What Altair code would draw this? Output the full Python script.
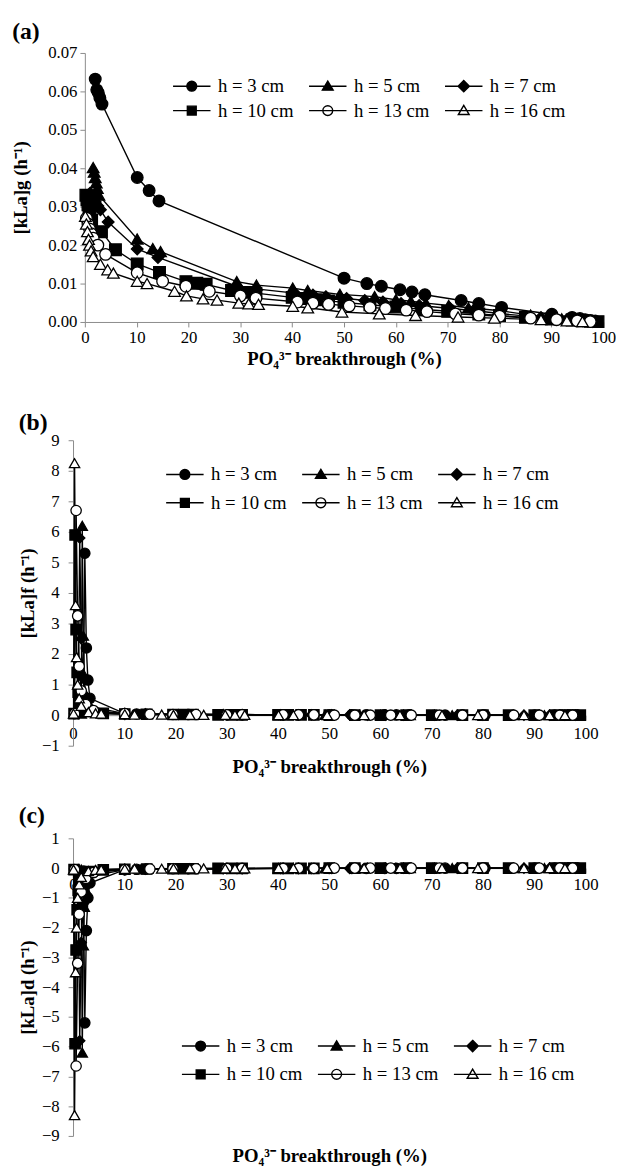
import altair as alt
import pandas as pd

FONT = "Liberation Serif"
SERIES = ["h = 3 cm", "h = 5 cm", "h = 7 cm", "h = 10 cm", "h = 13 cm", "h = 16 cm"]
MARKERS = ["circle", "triangle-up", "diamond", "square", "circle", "triangle-up"]
FILLS = ["black", "black", "black", "black", "white", "white"]
STROKES = ["black", "black", "black", "black", "black", "black"]

X_TICKS = [0, 10, 20, 30, 40, 50, 60, 70, 80, 90, 100]
YA_TICKS = [0.0, 0.01, 0.02, 0.03, 0.04, 0.05, 0.06, 0.07]
YB_TICKS = [-1, 0, 1, 2, 3, 4, 5, 6, 7, 8, 9]
YC_TICKS = [-9, -8, -7, -6, -5, -4, -3, -2, -1, 0, 1]

# ---- h = 3 cm ----
x3 = [2.0, 2.3, 2.6, 2.9, 3.3, 10.1, 12.4, 14.3, 50.0, 54.4, 57.2, 60.8, 63.1, 65.6, 72.6, 76.0, 80.4, 90.1, 94.0, 95.5, 96.5, 97.5, 98.5]
g3 = [0.0632, 0.0604, 0.0596, 0.0583, 0.0567, 0.0376, 0.0342, 0.0315, 0.0114, 0.0100, 0.0093, 0.0084, 0.0078, 0.0071, 0.0056, 0.0048, 0.0038, 0.0020, 0.0012, 0.0009, 0.0006, 0.0004, 0.0002]
f3 = [0.10, 5.30, 2.20, 1.15, 0.55, 0.05, 0.04, 0.03, 0.01, 0.01, 0.01, 0.01, 0.01, 0.01, 0.00, 0.00, 0.00, 0.00, 0.00, 0.00, 0.00, 0.00, 0.00]
d3 = [-0.10, -5.20, -2.10, -1.00, -0.50, -0.05, -0.04, -0.03, -0.01, -0.01, -0.01, -0.01, -0.01, -0.01, 0.00, 0.00, 0.00, 0.00, 0.00, 0.00, 0.00, 0.00, 0.00]

# ---- h = 5 cm ----
x5 = [1.6, 1.8, 2.0, 2.2, 2.4, 2.7, 10.1, 13.1, 14.6, 29.3, 33.1, 40.1, 43.0, 49.2, 55.9, 60.0, 62.9, 65.8, 70.2, 74.0, 79.7, 86.0, 92.0, 95.0, 97.0, 98.5]
g5 = [0.0402, 0.0390, 0.0376, 0.0362, 0.0348, 0.0330, 0.0216, 0.0191, 0.0183, 0.0105, 0.0096, 0.0088, 0.0082, 0.0072, 0.0066, 0.0058, 0.0054, 0.0049, 0.0043, 0.0037, 0.0030, 0.0018, 0.0008, 0.0005, 0.0003, 0.0001]
f5 = [0.05, 6.20, 2.60, 1.30, 0.70, 0.30, 0.05, 0.04, 0.03, 0.02, 0.02, 0.01, 0.01, 0.01, 0.01, 0.01, 0.00, 0.00, 0.00, 0.00, 0.00, 0.00, 0.00, 0.00, 0.00, 0.00]
d5 = [-0.05, -6.20, -2.60, -1.30, -0.70, -0.30, -0.05, -0.04, -0.03, -0.02, -0.02, -0.01, -0.01, -0.01, -0.01, -0.01, 0.00, 0.00, 0.00, 0.00, 0.00, 0.00, 0.00, 0.00, 0.00, 0.00]

# ---- h = 7 cm ----
x7 = [1.0, 1.3, 1.6, 2.0, 2.5, 3.0, 4.5, 10.1, 14.1, 29.3, 33.0, 40.5, 44.0, 46.5, 50.5, 54.0, 57.5, 61.0, 64.5, 70.5, 75.0, 80.0, 88.0, 93.0, 96.0, 98.0]
g7 = [0.0335, 0.0328, 0.0320, 0.0312, 0.0302, 0.0292, 0.0260, 0.0190, 0.0168, 0.0093, 0.0086, 0.0075, 0.0070, 0.0066, 0.0061, 0.0056, 0.0052, 0.0048, 0.0043, 0.0035, 0.0030, 0.0022, 0.0012, 0.0006, 0.0003, 0.0001]
f7 = [0.05, 5.80, 2.50, 1.20, 0.60, 0.30, 0.12, 0.05, 0.04, 0.02, 0.02, 0.01, 0.01, 0.01, 0.01, 0.01, 0.00, 0.00, 0.00, 0.00, 0.00, 0.00, 0.00, 0.00, 0.00, 0.00]
d7 = [-0.05, -5.80, -2.50, -1.20, -0.60, -0.30, -0.12, -0.05, -0.04, -0.02, -0.02, -0.01, -0.01, -0.01, -0.01, -0.01, 0.00, 0.00, 0.00, 0.00, 0.00, 0.00, 0.00, 0.00, 0.00, 0.00]

# ---- h = 10 cm ----
x10 = [0.2, 0.4, 0.6, 0.8, 1.0, 1.3, 3.2, 5.9, 10.1, 14.4, 19.5, 21.6, 23.4, 28.3, 31.0, 33.0, 40.0, 42.0, 44.5, 47.0, 50.0, 55.0, 60.0, 65.0, 70.0, 76.0, 80.0, 85.0, 90.0, 94.0, 96.0, 97.5, 99.0]
g10 = [0.0330, 0.0318, 0.0305, 0.0292, 0.0280, 0.0265, 0.0235, 0.0188, 0.0151, 0.0129, 0.0105, 0.0101, 0.0098, 0.0082, 0.0077, 0.0075, 0.0064, 0.0061, 0.0058, 0.0055, 0.0051, 0.0045, 0.0039, 0.0033, 0.0028, 0.0021, 0.0017, 0.0012, 0.0008, 0.0005, 0.0003, 0.0002, 0.0001]
f10 = [0.05, 5.90, 2.80, 1.40, 0.75, 0.40, 0.12, 0.06, 0.04, 0.03, 0.02, 0.02, 0.02, 0.01, 0.01, 0.01, 0.01, 0.01, 0.01, 0.01, 0.00, 0.00, 0.00, 0.00, 0.00, 0.00, 0.00, 0.00, 0.00, 0.00, 0.00, 0.00, 0.00]
d10 = [-0.05, -5.90, -2.75, -1.40, -0.75, -0.40, -0.12, -0.06, -0.04, -0.03, -0.02, -0.02, -0.02, -0.01, -0.01, -0.01, -0.01, -0.01, -0.01, -0.01, 0.00, 0.00, 0.00, 0.00, 0.00, 0.00, 0.00, 0.00, 0.00, 0.00, 0.00, 0.00, 0.00]

# ---- h = 13 cm ----
x13 = [0.3, 0.6, 0.9, 1.2, 1.6, 2.5, 4.0, 10.1, 15.0, 19.5, 24.0, 30.0, 33.0, 41.0, 44.0, 47.0, 51.0, 55.0, 58.0, 62.0, 66.0, 71.5, 76.0, 80.0, 86.0, 91.0, 95.0, 97.5]
g13 = [0.0270, 0.0255, 0.0242, 0.0230, 0.0218, 0.0200, 0.0176, 0.0128, 0.0106, 0.0093, 0.0080, 0.0068, 0.0062, 0.0052, 0.0049, 0.0046, 0.0042, 0.0038, 0.0035, 0.0031, 0.0027, 0.0021, 0.0018, 0.0015, 0.0010, 0.0006, 0.0003, 0.0001]
f13 = [0.05, 6.70, 3.25, 1.60, 0.80, 0.35, 0.15, 0.05, 0.03, 0.02, 0.02, 0.01, 0.01, 0.01, 0.01, 0.01, 0.00, 0.00, 0.00, 0.00, 0.00, 0.00, 0.00, 0.00, 0.00, 0.00, 0.00, 0.00]
d13 = [-0.05, -6.65, -3.20, -1.55, -0.80, -0.35, -0.15, -0.05, -0.03, -0.02, -0.02, -0.01, -0.01, -0.01, -0.01, -0.01, 0.00, 0.00, 0.00, 0.00, 0.00, 0.00, 0.00, 0.00, 0.00, 0.00, 0.00, 0.00]

# ---- h = 16 cm ----
x16 = [0.1, 0.3, 0.5, 0.7, 0.9, 1.2, 1.6, 3.0, 4.4, 5.5, 10.1, 12.0, 17.3, 19.6, 22.8, 25.5, 29.7, 31.6, 33.5, 40.1, 43.0, 49.6, 56.8, 63.8, 72.0, 79.0, 88.0, 93.0, 96.0]
g16 = [0.0275, 0.0255, 0.0235, 0.0215, 0.0200, 0.0185, 0.0170, 0.0150, 0.0136, 0.0127, 0.0106, 0.0100, 0.0080, 0.0068, 0.0060, 0.0057, 0.0049, 0.0047, 0.0046, 0.0041, 0.0037, 0.0026, 0.0021, 0.0017, 0.0013, 0.0010, 0.0006, 0.0003, 0.0001]
f16 = [0.05, 8.25, 3.60, 1.90, 1.00, 0.55, 0.30, 0.10, 0.06, 0.05, 0.03, 0.02, 0.02, 0.01, 0.01, 0.01, 0.01, 0.01, 0.01, 0.00, 0.00, 0.00, 0.00, 0.00, 0.00, 0.00, 0.00, 0.00, 0.00]
d16 = [-0.05, -8.30, -3.50, -2.00, -1.00, -0.55, -0.30, -0.10, -0.06, -0.05, -0.03, -0.02, -0.02, -0.01, -0.01, -0.01, -0.01, -0.01, -0.01, 0.00, 0.00, 0.00, 0.00, 0.00, 0.00, 0.00, 0.00, 0.00, 0.00]

TABLE = [
    (SERIES[0], x3, g3, f3, d3),
    (SERIES[1], x5, g5, f5, d5),
    (SERIES[2], x7, g7, f7, d7),
    (SERIES[3], x10, g10, f10, d10),
    (SERIES[4], x13, g13, f13, d13),
    (SERIES[5], x16, g16, f16, d16),
]
rows = []
for name, xs, gs, fs, ds in TABLE:
    for i, (xv, gv, fv, dv) in enumerate(zip(xs, gs, fs, ds)):
        rows.append({"series": name, "idx": i, "x": xv, "g": gv, "f": fv, "d": dv})
df = pd.DataFrame(rows)

LINE = "M-3.8,0L3.8,0"
LEGEND_PATHS = [
    LINE + "M1,0A1,1,0,1,1,-1,0A1,1,0,1,1,1,0Z",
    LINE + "M0,-1.05L1.1,0.8L-1.1,0.8Z",
    LINE + "M0,-1.15L1.15,0L0,1.15L-1.15,0Z",
    LINE + "M-0.9,-0.9L0.9,-0.9L0.9,0.9L-0.9,0.9Z",
    LINE + "M1,0A1,1,0,1,1,-1,0A1,1,0,1,1,1,0Z",
    LINE + "M0,-1.05L1.1,0.8L-1.1,0.8Z",
]

XTITLE = "PO\u2084\u00b3\u207b breakthrough (%)"


def panel(field, letter, ytitle, ydom, yvals, yfmt, w, h, shift, xoff, xlabpad, xtpad,
          ylabpad, ytpad, lx, ly, rowpad, size, title_off):
    # `shift` moves this panel's plot area left of the shared column origin
    x = alt.X("x:Q", scale=alt.Scale(domain=[0, 100], nice=False, zero=False, range=[-shift, w]),
              axis=alt.Axis(values=X_TICKS, title=XTITLE, offset=xoff,
                            labelPadding=xlabpad, titlePadding=xtpad, labelFlush=False))
    y = alt.Y(f"{field}:Q", scale=alt.Scale(domain=ydom, nice=False, zero=False),
              axis=alt.Axis(values=yvals, format=yfmt, title=ytitle, labelFlush=False,
                            offset=shift, labelPadding=ylabpad, titlePadding=ytpad))
    base = alt.Chart(df)
    layers = [base.mark_line(color="black", strokeWidth=1.4).encode(
        x=x, y=y, detail="series:N", order="idx:Q")]
    for name, shp, fc in zip(SERIES, MARKERS, FILLS):
        layers.append(
            base.transform_filter(alt.datum.series == name).mark_point(
                shape=shp, filled=True, fill=fc, stroke="black", strokeWidth=1.3,
                size=size, opacity=1).encode(x=x, y=y))
    leg = alt.Legend(title=None, orient="none", legendX=lx, legendY=ly, columns=3,
                     direction="horizontal",
                     symbolSize=100, symbolStrokeWidth=1.4,
                     labelFont=FONT, labelFontSize=19, labelColor="black", labelOffset=17,
                     columnPadding=12, rowPadding=rowpad, padding=0)
    layers.append(base.transform_filter("false").mark_point(
        filled=True, strokeWidth=1.4, opacity=1).encode(
        shape=alt.Shape("series:N", scale=alt.Scale(domain=SERIES, range=LEGEND_PATHS), legend=leg),
        fill=alt.Fill("series:N", scale=alt.Scale(domain=SERIES, range=FILLS), legend=leg),
        stroke=alt.Stroke("series:N", scale=alt.Scale(domain=SERIES, range=STROKES), legend=leg),
    ))
    return alt.layer(*layers).properties(
        width=w, height=h,
        title=alt.TitleParams(letter, anchor="start", frame="bounds", font=FONT, fontSize=24,
                              fontWeight="bold", color="black", offset=title_off))


HA = 273
HB = 310
HC = 302
pa = panel("g", "(a)", "[kLa]g (h\u207b\u00b9)", [0, 0.07], YA_TICKS, ".2f", 526, HA, 0,
           0, 3, 4, 3, 17, 99, 24, 5, 140, 0)
pb = panel("f", "(b)", "[kLa]f (h\u207b\u00b9)", [-1, 9], YB_TICKS, "d", 508, HB, 12,
           -HB / 10, 6, 16, 9, 4, 92, 25, 9, 110, -4)
pc = panel("d", "(c)", "[kLa]d (h\u207b\u00b9)", [-9, 1], YC_TICKS, "d", 508, HC, 12,
           -HC * 9 / 10, 4, 258, 9, 4, 108, 201, 9, 110, 2)

INDEP = dict(shape="independent", fill="independent", stroke="independent")
inner = alt.concat(pb, pc, columns=1, spacing=28, align="none").resolve_scale(**INDEP)
chart = alt.concat(pa, inner, columns=1, spacing=44, align="none").resolve_scale(**INDEP).properties(
    padding={"left": 4, "top": 4, "right": 0, "bottom": 0}
).configure_view(stroke=None).configure_axis(
    domainColor="#8a8a8a", tickColor="#8a8a8a", tickSize=5, grid=False,
    labelFont=FONT, labelFontSize=17, labelColor="black",
    titleFont=FONT, titleFontSize=19, titleFontWeight="bold", titleColor="black",
)

chart.save("out.html", embed_options={"renderer": "svg", "actions": False})
